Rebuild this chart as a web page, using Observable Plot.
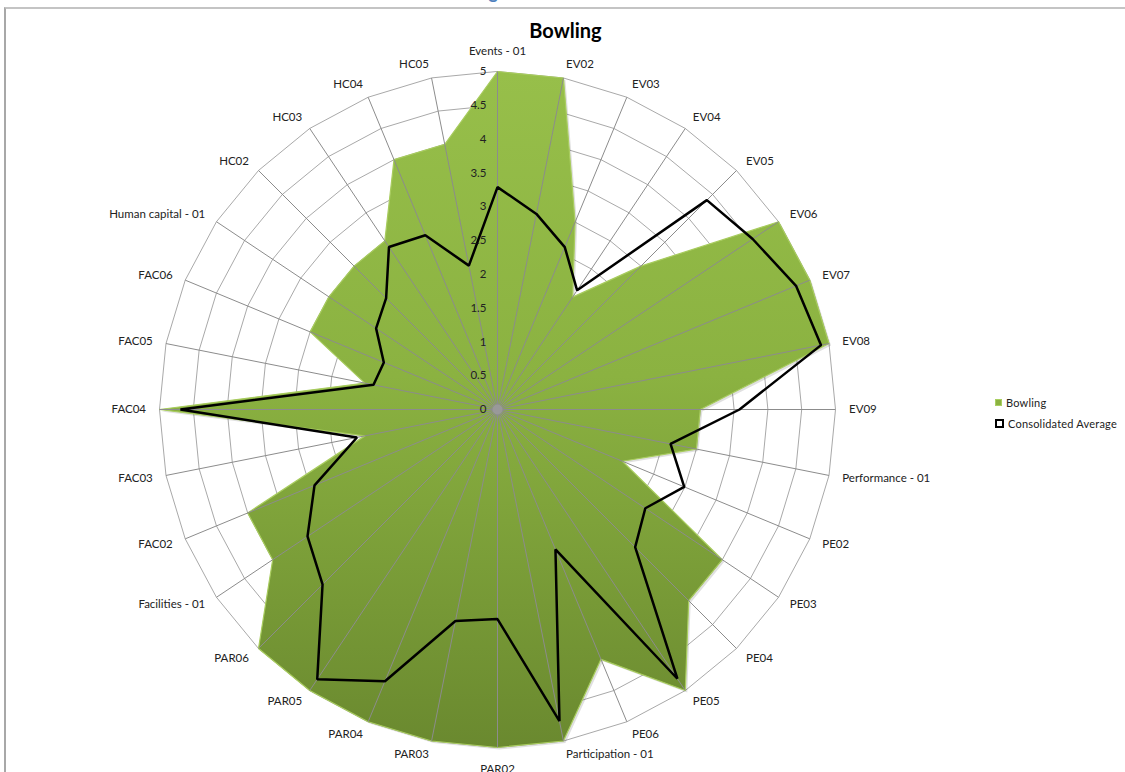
<!DOCTYPE html>
<html>
<head>
<meta charset="utf-8">
<script src="https://cdn.jsdelivr.net/npm/d3@7"></script>
<script src="https://cdn.jsdelivr.net/npm/@observablehq/plot@0.6"></script>
<style>
  html, body { margin: 0; padding: 0; background: #fff; overflow: hidden; }
  #wrap { position: relative; width: 1125px; height: 772px; font-family: Lato, "Open Sans", sans-serif; }
  #wrap svg { position: absolute; left: 0; top: 0; }
  #wrap svg text.cat { letter-spacing: 0.35px; }
  #frame { position: absolute; left: 4px; top: 7px; width: 1200px; height: 900px;
           border-top: 2px solid #c4c4c4; border-left: 2px solid #a8a8a8; pointer-events: none; }
  #doc { position: absolute; left: 433px; top: -18px; color: #4f81bd; font: bold 18px/20px Lato, sans-serif; }
  #title { position: absolute; left: 0; width: 1131px; top: 18px; text-align: center; font: bold 20px Lato, sans-serif; color: #000; }
  #legend { position: absolute; left: 995px; top: 392px; font: 11px Lato, sans-serif; color: #222; letter-spacing: 0.2px; }
  .li { display: flex; align-items: center; height: 21px; }
  .sw { width: 7px; height: 7px; margin-right: 4px; box-sizing: border-box; }
</style>
</head>
<body>
<div id="wrap">
  <div id="doc">Bowling</div>
  <div id="frame"></div>
  <div id="title">Bowling</div>
  <div id="legend">
    <div class="li"><div class="sw" style="background:#8bb241;border:1px solid #a9cf62"></div>Bowling</div>
    <div class="li"><div class="sw" style="width:9px;height:9px;background:#fff;border:2px solid #000"></div>Consolidated Average</div>
  </div>
</div>
<script>
const categories = ["Events - 01","EV02","EV03","EV04","EV05","EV06","EV07","EV08","EV09",
  "Performance - 01","PE02","PE03","PE04","PE05","PE06",
  "Participation - 01","PAR02","PAR03","PAR04","PAR05","PAR06",
  "Facilities - 01","FAC02","FAC03","FAC04","FAC05","FAC06",
  "Human capital - 01","HC02","HC03","HC04","HC05"];
const bowling = [5,5,3,2,3,5,5,5,3, 3,2,4,4,5,4, 5,5,5,5,5,5, 4,4,2,5,2,3, 3,3,3,4,4];
const average = [3.29,2.95,2.6,2.12,4.38,4.54,4.78,4.88,3.58, 2.61,2.99,2.63,2.88,4.79,2.24,
  4.7,3.1,3.19,4.35,4.8,3.66, 3.38,2.93,2.12,4.69,1.87,1.82, 2.16,2.33,2.89,2.79,2.17];
const ticks = [0,0.5,1,1.5,2,2.5,3,3.5,4,4.5,5];
const tickLabels = ["0","0.5","1","1.5","2","2.5","3","3.5","4","4.5","5"];

const n = categories.length;
const ang = i => i * 2 * Math.PI / n;
const maxV = d3.max(ticks);
const pt = (i, v) => ({x: v * Math.sin(ang(i)), y: v * Math.cos(ang(i))});

const bowlPts = bowling.map((v, i) => pt(i, v));
const avgPts = average.map((v, i) => pt(i, v));
const rings = ticks.slice(1).flatMap(t => categories.map((c, i) => ({...pt(i, t), level: t})));
const spokes = categories.map((c, i) => ({x1: 0, y1: 0, x2: pt(i, maxV).x, y2: pt(i, maxV).y}));
const labR = maxV * 1.04;
const labels = categories.map((c, i) => ({...pt(i, labR), name: c, s: Math.sin(ang(i)), cy: Math.cos(ang(i))}));

const pxPerUnit = 67.6, cx = 497, cy = 409, W = 1125, H = 772;
const catText = {x: "x", y: "y", text: "name", fontSize: 11.5, fill: "#222", className: "cat"};

const chart = Plot.plot({
  width: W, height: H, margin: 0,
  x: {domain: [-cx / pxPerUnit, (W - cx) / pxPerUnit], range: [0, W], axis: null},
  y: {domain: [-(H - cy) / pxPerUnit, cy / pxPerUnit], range: [H, 0], axis: null},
  style: {fontFamily: "Lato, 'Open Sans', sans-serif", color: "#222", background: "transparent"},
  marks: [
    Plot.line(rings, {x: "x", y: "y", z: "level", curve: "linear-closed", stroke: "#a9a9a9", strokeWidth: 1}),
    Plot.line(bowlPts, {x: "x", y: "y", curve: "linear-closed", fill: "#000", fillOpacity: 0.12, stroke: "none", dx: 2, dy: 2}),
    Plot.line(bowlPts, {x: "x", y: "y", curve: "linear-closed", fill: "url(#bowlGrad)", stroke: "#a8cc5e", strokeWidth: 1.2}),
    Plot.link(spokes, {x1: "x1", y1: "y1", x2: "x2", y2: "y2", stroke: "#8c8c8c", strokeWidth: 1}),
    Plot.dot([{x: 0, y: 0}], {x: "x", y: "y", r: 5, fill: "#999", stroke: "none"}),
    Plot.line(avgPts, {x: "x", y: "y", curve: "linear-closed", stroke: "#000", strokeWidth: 2.5, strokeLinejoin: "miter"}),
    Plot.text(ticks, {x: 0, y: d => d, text: (d, i) => tickLabels[i], textAnchor: "end", dx: -11, fontSize: 11.5, fill: "#222"}),
    Plot.text(labels.filter(d => d.s > 0.1), {...catText, textAnchor: "start"}),
    Plot.text(labels.filter(d => d.s < -0.1), {...catText, textAnchor: "end"}),
    Plot.text(labels.filter(d => Math.abs(d.s) <= 0.1 && d.cy > 0), {...catText, textAnchor: "middle", lineAnchor: "bottom", dy: -3}),
    Plot.text(labels.filter(d => Math.abs(d.s) <= 0.1 && d.cy < 0), {...catText, textAnchor: "middle", lineAnchor: "top", dy: 4})
  ]
});

const defs = d3.select(chart).insert("defs", ":first-child");
const g = defs.append("linearGradient").attr("id", "bowlGrad").attr("x1", 0).attr("y1", 0).attr("x2", 0).attr("y2", 1);
g.append("stop").attr("offset", "0%").attr("stop-color", "#97bf4a");
g.append("stop").attr("offset", "45%").attr("stop-color", "#8bb241");
g.append("stop").attr("offset", "100%").attr("stop-color", "#6a892f");

document.getElementById("wrap").insertBefore(chart, document.getElementById("frame"));
</script>
</body>
</html>
